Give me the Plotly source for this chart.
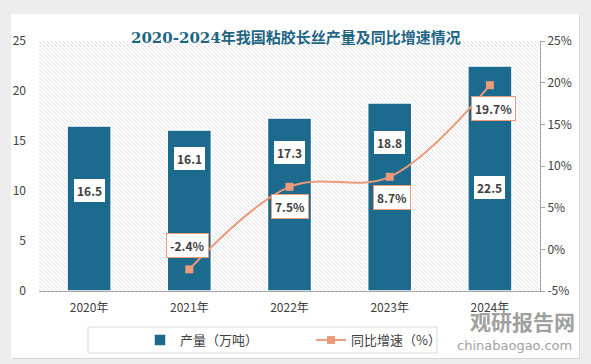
import plotly.graph_objects as go
import base64

# ---- data ----
years = ["2020年", "2021年", "2022年", "2023年", "2024年"]
output = [16.5, 16.1, 17.3, 18.8, 22.5]          # 产量（万吨）
growth = [None, -2.4, 7.5, 8.7, 19.7]            # 同比增速（%）
left_ticks = [0, 5, 10, 15, 20, 25]
right_ticks = [-5, 0, 5, 10, 15, 20, 25]

# ---- styles ----
BAR = "#1c6a8e"
LINE = "#ec9a7a"
TXT = "#404040"
FONT = "Noto Sans CJK SC, Noto Sans, sans-serif"
bar_label_pos = [10.1, 13.3, 13.9, 14.9, 10.4]   # label y positions (left axis units)
line_label_shift = [0, 24, -20, -21, -23]        # pixel shifts for growth labels
line_label_xshift = [0, -2, 0, 2, 4]

W, H = 591, 364
L, R, T, B = 39, 51, 41, 73
PW, PH = W - L - R, H - T - B


def px(xp):
    return (xp - L) / PW


def py(yp):
    return (T + PH - yp) / PH


# hatch background (lines from top-left to bottom-right) as SVG image
svg = f'''<svg xmlns="http://www.w3.org/2000/svg" width="{PW}" height="{PH}">
<defs><pattern id="p" width="4" height="4" patternUnits="userSpaceOnUse">
<rect width="4" height="4" fill="white"/>
<line x1="-1" y1="-1" x2="5" y2="5" stroke="#cdcdcd" stroke-width="0.9" stroke-dasharray="1,0.6"/>
</pattern></defs>
<rect width="{PW}" height="{PH}" fill="url(#p)"/></svg>'''
src = "data:image/svg+xml;base64," + base64.b64encode(svg.encode()).decode()

fig = go.Figure()
fig.add_trace(go.Bar(
    x=years, y=output, name="产量（万吨）", width=0.44,
    marker=dict(color=BAR, line=dict(color="white", width=1.5)),
    yaxis="y",
))
fig.add_trace(go.Scatter(
    x=years, y=growth, name="同比增速（%）", mode="lines+markers",
    line=dict(color=LINE, width=2, shape="spline", smoothing=1.0),
    marker=dict(symbol="square", size=8, color=LINE),
    yaxis="y2", connectgaps=False,
))

ann = []
for i, (yr, v) in enumerate(zip(years, output)):
    ann.append(dict(x=yr, y=bar_label_pos[i], xref="x", yref="y", text=f"<b>{v}</b>",
                    showarrow=False, font=dict(size=12, color=TXT, family=FONT),
                    bgcolor="white", bordercolor=BAR, borderwidth=1, borderpad=3))
for i, (yr, g) in enumerate(zip(years, growth)):
    if g is None:
        continue
    ann.append(dict(x=yr, y=g, xref="x", yref="y2", text=f"<b>{g}%</b>",
                    showarrow=False, yshift=line_label_shift[i], xshift=line_label_xshift[i],
                    font=dict(size=12, color=TXT, family=FONT),
                    bgcolor="white", bordercolor=LINE, borderwidth=1, borderpad=3))
# title
ann.append(dict(x=px(296), y=py(27), xref="paper", yref="paper",
                text="<b>2020-2024年我国粘胶长丝产量及同比增速情况</b>",
                showarrow=False, font=dict(size=15, color="#1f6685", family="DejaVu Serif, Noto Sans CJK SC")))
# watermark
ann.append(dict(x=px(577), y=py(338), xref="paper", yref="paper",
                text="<b>观研报告网</b>", showarrow=False, xanchor="right",
                font=dict(size=21, color="#a0a0a0", family=FONT)))
ann.append(dict(x=px(574), y=py(355), xref="paper", yref="paper",
                text="chinabaogao.com", showarrow=False, xanchor="right",
                font=dict(size=13, color="#a0a0a0", family="DejaVu Sans")))

GRAY = "#ededed"
shapes = [
    # gray surround of the card (outside plot area)
    dict(type="rect", xref="paper", yref="paper", layer="below",
         x0=px(0), x1=px(W), y0=py(14), y1=py(0), fillcolor=GRAY, line=dict(width=0)),
    dict(type="rect", xref="paper", yref="paper", layer="below",
         x0=px(0), x1=px(W), y0=py(H), y1=py(359), fillcolor=GRAY, line=dict(width=0)),
    dict(type="rect", xref="paper", yref="paper", layer="below",
         x0=px(0), x1=px(11), y0=py(H), y1=py(0), fillcolor=GRAY, line=dict(width=0)),
    dict(type="rect", xref="paper", yref="paper", layer="below",
         x0=px(579), x1=px(W), y0=py(H), y1=py(0), fillcolor=GRAY, line=dict(width=0)),
    # soft shadow lines
    dict(type="line", xref="paper", yref="paper", layer="below",
         x0=px(579.5), x1=px(579.5), y0=py(359), y1=py(16), line=dict(color="#d6d6d6", width=1)),
    dict(type="line", xref="paper", yref="paper", layer="below",
         x0=px(12), x1=px(579.5), y0=py(358.5), y1=py(358.5), line=dict(color="#d6d6d6", width=1)),
    # legend frame
    dict(type="rect", xref="paper", yref="paper", layer="below",
         x0=px(88), x1=px(437), y0=py(353), y1=py(327), fillcolor="white",
         line=dict(color="#d9d9d9", width=1)),
]

fig.update_layout(
    width=W, height=H,
    margin=dict(l=L, r=R, t=T, b=B, pad=0, autoexpand=False),
    paper_bgcolor="white", plot_bgcolor="rgba(0,0,0,0)",
    font=dict(family=FONT, size=12, color=TXT),
    showlegend=True,
    legend=dict(orientation="h", x=px(140), xanchor="left", y=py(340), yanchor="middle",
                borderwidth=0, bgcolor="rgba(0,0,0,0)",
                font=dict(size=13, color=TXT, family=FONT), itemwidth=30,
                entrywidth=126),
    xaxis=dict(showgrid=False, showline=True, linecolor="#a6a6a6", linewidth=1,
               ticks="", tickfont=dict(size=12, color=TXT), ticklabelstandoff=6),
    yaxis=dict(range=[0, 25], tickvals=left_ticks, showgrid=False, zeroline=False,
               showline=False, tickfont=dict(size=12, color=TXT), ticklabelstandoff=12),
    yaxis2=dict(range=[-5, 25], tickvals=right_ticks, ticktext=[f"{t}%" for t in right_ticks],
                overlaying="y", side="right", showgrid=False, zeroline=False,
                showline=True, linecolor="#a6a6a6", linewidth=1, ticks="outside", ticklen=4,
                tickcolor="#a6a6a6", tickfont=dict(size=12, color=TXT)),
    annotations=ann, shapes=shapes,
    images=[dict(source=src, xref="paper", yref="paper", x=0, y=1, sizex=1, sizey=1,
                 xanchor="left", yanchor="top", sizing="stretch", layer="below")],
)

fig.write_html("out.html", config={"displayModeBar": False},
               post_script="document.body.style.margin='0';document.body.style.overflow='hidden';")
